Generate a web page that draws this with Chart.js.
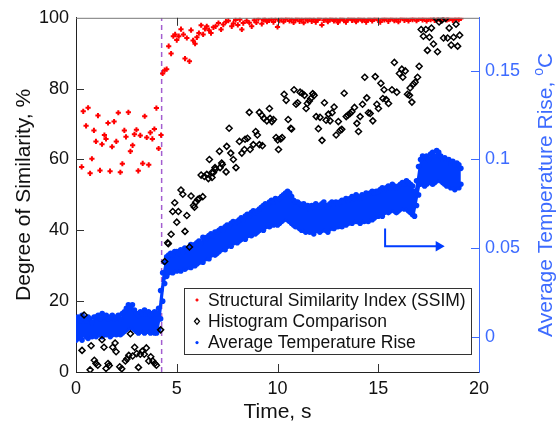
<!DOCTYPE html>
<html>
<head>
<meta charset="utf-8">
<script src="https://cdn.jsdelivr.net/npm/chart.js@4.4.1/dist/chart.umd.min.js"></script>
<style>
  html, body { margin: 0; padding: 0; background: #fff; }
  #wrap { width: 557px; height: 425px; }
</style>
</head>
<body>
<div id="wrap"><canvas id="chart" width="557" height="425"></canvas></div>
<script>
// --- Axis ticks ---
const xTicks = [0, 5, 10, 15, 20];
const leftTicks = [0, 20, 40, 60, 80, 100];
const rightTicks = [0, 0.05, 0.1, 0.15];

// --- SSIM (%), [time s, value] ---
const ssimEarly = [
  [0.28,57.9],[0.36,73.6],[0.5,69.5],[0.6,74.6],[0.7,56.1],[0.79,60.2],[0.89,68.2],[0.99,65.1],
  [1.09,72.4],[1.19,56.9],[1.29,64.3],[1.41,66.9],[1.49,65.8],[1.59,70.3],[1.69,56.7],[1.79,63.6],
  [1.89,70.7],[2.0,65.1],[2.1,73.2],[2.2,56.4],[2.3,58.8],[2.4,68.2],[2.48,66.4],[2.6,73.3],
  [2.7,62.3],[2.81,64],[2.9,67.1],[3.0,68.4],[3.09,56.8],[3.19,66.8],[3.31,58.9],[3.41,72.2],
  [3.51,66.2],[3.61,58.5],[3.69,67.6],[3.79,65.8],[3.89,68.6],[3.99,74.5],[4.1,63.1],[4.22,66.9]
];
const ssimRise = [
  [4.3,84.3],[4.4,85.2],[4.5,85.5],[4.6,92],[4.72,89.9],[4.83,94.8],[4.92,95.3],[5.0,93.7],
  [5.1,94.8],[5.21,96.8],[5.33,95.3],[5.41,88.5],[5.5,94.3],[5.63,87.7],[5.71,96.5],[5.81,93.6],
  [5.91,92.7],[6.0,94.5],[6.1,95.7],[6.21,97.9],[6.31,95.3],[6.4,96.9],[6.49,97.6],[6.6,96.5],
  [6.7,95.7],[6.82,97.3],[6.93,97.6],[7.07,98.5],[7.2,96.7],[7.31,98.1],[7.44,98.9],[7.56,99.2],
  [7.73,97.6],[7.81,98.4],[7.92,99.4],[8.03,98],[8.13,99.5],[8.23,96.7],[8.3,98.5],[8.47,99.2],
  [8.6,98.6],[8.72,97.6],[8.85,99.3],[8.95,98.7],[9.05,99.7],[9.22,98.3],[9.3,99.4],[9.38,99.6],
  [9.48,98.9],[9.58,99.3]
];
// dense part, one sample every 0.1 s from 9.7 s
const ssimLateStart = 9.7;
const ssimLate = [
  99.5,98.8,99.6,97.4,99.2,99.8,98.9,99.5,100,99.1,
  99.6,98.7,99.4,99.9,99.0,99.5,98.6,99.7,99.2,99.8,
  99.0,99.6,98.8,99.4,99.9,98.0,99.3,99.7,98.9,99.5,
  99.8,99.1,99.6,98.7,99.4,99.9,99.2,98.8,99.6,99.9,
  99.3,99.7,98.9,99.5,99.9,99.2,99.6,98.8,99.4,99.8,
  99.1,99.6,99.9,99.3,98.8,99.7,99.4,99.9,99.0,99.6,
  99.8,99.2,99.5,98.9,99.7,99.9,99.3,99.6,99.1,99.8,
  99.5,99.9,99.2,99.6,99.8,99.4,99.9,99.1,99.7,99.5,
  99.9,99.3,99.6,99.8,99.2,99.7,99.9,99.4,99.6,99.8,
  99.3,99.7,99.9,99.5,99.8
];

// --- Histogram comparison (%), [time s, value] ---
const histPoints = [
  [0.3,6.1],[0.4,16.1],[0.7,0.6],[0.75,7.4],[0.91,3.3],[0.99,2.4],[1.08,1.9],[1.29,9.1],[1.39,7],
  [1.49,1],[1.59,2.4],[1.65,1.8],[1.82,7],[1.94,8.2],[1.99,5.7],[2.17,1.5],[2.27,0.9],[2.45,3.1],
  [2.53,3.7],[2.62,4.7],[2.7,10.8],[2.81,4.5],[2.91,7],[3.01,5.2],[3.1,1.3],[3.19,5],[3.29,5.9],
  [3.39,5],[3.49,6.8],[3.61,3.1],[3.71,4.3],[3.81,3.1],[3.91,2.4],[3.99,1.9],[4.2,11.9],
  [4.4,31.2],[4.55,36.5],[4.58,36.2],[4.72,38.9],[4.8,45.3],[4.9,47.8],[5.0,42.3],[5.08,45.3],
  [5.21,51.4],[5.3,50.2],[5.41,39.7],[5.5,44.2],[5.63,35.3],[5.71,49.7],[5.83,47],[5.88,46.5],
  [5.94,47.9],[6.04,48.7],[6.12,49],[6.21,55.6],[6.29,49.5],[6.37,55.2],[6.49,55.8],[6.57,54.6],
  [6.62,60],[6.74,56.3],[6.75,54.9],[6.82,56.3],[6.9,57.7],[6.92,57.2],[7.12,62.3],[7.15,57.7],
  [7.23,59],[7.26,58.6],[7.45,56.5],[7.48,63.7],[7.6,68.8],[7.68,61.8],[7.81,60],[7.94,57.7],
  [8.11,65.1],[8.23,61.8],[8.36,62.8],[8.39,65.7],[8.51,66],[8.6,73.3],[8.64,62.8],[8.8,64.2],
  [8.92,67.9],[9.0,66.9],[9.1,64.2],[9.1,73.3],[9.22,72.5],[9.25,63.9],[9.33,71.6],[9.47,70.9],
  [9.6,74.4],[9.63,71.6],[9.72,70.7],[9.8,71.3],[9.93,66.2],[10.01,65.5],[10.05,62.8],[10.16,65.8],
  [10.23,66.2],[10.33,78.4],[10.43,76.7],[10.53,71.3],[10.66,68.8],[10.7,68.6],[10.82,79.7],
  [10.92,75.6],[11.0,76],[11.12,79],[11.22,78.7],[11.34,78.1],[11.42,74.4],[11.48,75.8],[11.58,76.5],
  [11.65,77.2],[11.75,78.6],[11.82,78.1],[11.92,72.1],[12.03,68.7],[12.11,71.9],[12.21,65.4],
  [12.33,76],[12.41,71.1],[12.53,72.8],[12.61,70.9],[12.71,73.2],[12.81,74.8],[12.91,66.9],
  [13.02,70.7],[13.11,68.2],[13.19,68.5],[13.31,78.7],[13.41,72.1],[13.49,72.5],[13.6,73],
  [13.69,73.5],[13.82,74.7],[13.94,70.2],[14.02,67.9],[14.1,72.1],[14.22,75.6],[14.33,83.2],
  [14.43,77.4],[14.51,73.2],[14.6,73],[14.73,70.9],[14.85,83.4],[14.93,75.6],[15.01,74.4],
  [15.13,81.5],[15.23,77.2],[15.29,79.7],[15.39,76.9],[15.51,75.8],[15.68,79.7],[15.8,87.4],
  [15.92,79],[16.05,84.3],[16.17,85.5],[16.22,83.2],[16.34,85],[16.45,78.4],[16.55,78.1],
  [16.58,80.2],[16.67,76.2],[16.75,81.3],[16.83,81.8],[16.95,83.2],[17.03,86.3],[17.13,96.7],
  [17.24,94.8],[17.36,96.7],[17.44,90.8],[17.54,94.5],[17.64,97.1],[17.74,92.6],[17.87,99.9],
  [17.94,90.4],[18.02,98.8],[18.16,99.4],[18.24,94.3],[18.34,99.8],[18.44,94.3],[18.52,97.1],
  [18.62,92.3],[18.74,94.5],[18.86,98.2],[18.94,92],[19.04,95.1]
];

// --- Average temperature rise (°C): upper and lower edge of the dense band, every 0.1 s ---
const tempStart = 0;
const tempStep = 0.1;
const tempUpper = [
  0.010,0.011,0.009,0.012,0.010,0.009,0.011,0.010,0.008,0.011,
  0.011,0.012,0.010,0.013,0.011,0.012,0.010,0.011,0.012,0.010,
  0.011,0.012,0.010,0.013,0.014,0.016,0.018,0.017,0.018,0.015,
  0.013,0.012,0.014,0.013,0.015,0.013,0.014,0.012,0.013,0.014,
  0.013,0.016,0.026,0.036,0.042,0.045,0.046,0.047,0.046,0.048,
  0.048,0.047,0.049,0.048,0.050,0.049,0.050,0.052,0.051,0.052,
  0.053,0.054,0.053,0.056,0.055,0.056,0.057,0.058,0.057,0.059,
  0.059,0.060,0.061,0.060,0.062,0.063,0.062,0.064,0.065,0.064,
  0.065,0.066,0.067,0.066,0.068,0.069,0.068,0.070,0.071,0.070,
  0.071,0.072,0.073,0.074,0.075,0.074,0.076,0.077,0.076,0.078,
  0.077,0.078,0.079,0.080,0.081,0.082,0.081,0.079,0.077,0.076,
  0.076,0.075,0.074,0.075,0.073,0.074,0.072,0.074,0.073,0.075,
  0.074,0.073,0.075,0.076,0.074,0.073,0.075,0.076,0.075,0.076,
  0.075,0.076,0.077,0.076,0.078,0.077,0.078,0.079,0.078,0.080,
  0.079,0.078,0.080,0.079,0.081,0.080,0.081,0.082,0.081,0.082,
  0.082,0.083,0.084,0.083,0.084,0.085,0.084,0.086,0.085,0.084,
  0.085,0.086,0.087,0.086,0.088,0.087,0.086,0.085,0.082,0.088,
  0.096,0.100,0.102,0.101,0.102,0.100,0.103,0.104,0.102,0.105,
  0.104,0.102,0.100,0.101,0.099,0.100,0.098,0.099,0.097,0.098,
  0.097,0.095
];
const tempLower = [
  -0.002,-0.001,0.000,-0.002,0.001,0.000,-0.001,0.001,0.000,0.001,
  0.000,0.002,0.001,0.000,0.002,0.001,0.002,0.000,0.001,0.002,
  0.001,0.002,0.001,0.002,0.003,0.004,0.006,0.005,0.006,0.004,
  0.003,0.002,0.003,0.004,0.002,0.003,0.004,0.002,0.003,0.002,
  0.002,0.004,0.010,0.020,0.030,0.034,0.036,0.037,0.036,0.038,
  0.037,0.038,0.037,0.039,0.038,0.039,0.040,0.039,0.041,0.040,
  0.041,0.042,0.043,0.042,0.044,0.045,0.044,0.046,0.047,0.046,
  0.047,0.048,0.049,0.050,0.049,0.051,0.052,0.051,0.053,0.054,
  0.053,0.054,0.055,0.056,0.055,0.057,0.058,0.057,0.059,0.058,
  0.059,0.060,0.061,0.060,0.062,0.063,0.062,0.064,0.063,0.064,
  0.063,0.064,0.065,0.066,0.067,0.066,0.065,0.064,0.063,0.062,
  0.062,0.061,0.060,0.061,0.059,0.060,0.059,0.060,0.058,0.060,
  0.060,0.059,0.060,0.061,0.060,0.059,0.061,0.062,0.061,0.062,
  0.062,0.063,0.062,0.064,0.063,0.064,0.065,0.064,0.066,0.065,
  0.065,0.064,0.066,0.065,0.066,0.065,0.067,0.066,0.067,0.068,
  0.068,0.069,0.068,0.070,0.071,0.070,0.071,0.072,0.071,0.070,
  0.071,0.072,0.073,0.072,0.073,0.071,0.070,0.069,0.068,0.074,
  0.080,0.086,0.087,0.085,0.086,0.087,0.088,0.086,0.087,0.088,
  0.089,0.088,0.087,0.086,0.085,0.086,0.084,0.085,0.083,0.085,
  0.084,0.086
];

// --- Markers: dashed cut line (left axis) and arrow towards right axis ---
const cutTime = [4.25, 4.25];
const cutLevel = [0, 100];
const arrowTime = [15.34, 15.34, 18.0];
const arrowTemp = [0.061, 0.051, 0.051];

// --- Styles ---
const FONT = '"Liberation Sans", Arial, sans-serif';
const RED = '#ff0000';
const BLUE = '#003cff';
const AXIS_BLUE = '#3d6bff';

// --- Build datasets ---
const pairs = list => list.map(([x, y]) => ({x, y}));
const ssimData = pairs(ssimEarly).concat(pairs(ssimRise))
  .concat(ssimLate.map((y, i) => ({x: +(ssimLateStart + i * 0.1).toFixed(2), y})));
const upperData = tempUpper.map((y, i) => ({x: +(tempStart + i * tempStep).toFixed(2), y}));
const lowerData = tempLower.map((y, i) => ({x: +(tempStart + i * tempStep).toFixed(2), y}));
const cutData = cutTime.map((x, i) => ({x, y: cutLevel[i]}));
const arrowData = arrowTime.map((x, i) => ({x, y: arrowTemp[i]}));

// --- Frame: box, inward ticks, right title ---
const framePlugin = {
  id: 'frame',
  afterDraw(chart) {
    const {ctx, chartArea: a, scales} = chart;
    const seg = (x1, y1, x2, y2) => { ctx.beginPath(); ctx.moveTo(x1, y1); ctx.lineTo(x2, y2); ctx.stroke(); };
    ctx.save();
    ctx.lineWidth = 1;
    ctx.strokeStyle = '#777';
    seg(a.left, a.top + 0.5, a.right, a.top + 0.5);
    ctx.strokeStyle = '#333';
    xTicks.slice(1, -1).forEach(v => {
      const px = Math.round(scales.x.getPixelForValue(v)) + 0.5;
      seg(px, a.bottom, px, a.bottom - 8);
      seg(px, a.top, px, a.top + 8);
    });
    leftTicks.slice(1, -1).forEach(v => {
      const py = Math.round(scales.y.getPixelForValue(v)) + 0.5;
      seg(a.left, py, a.left + 8, py);
    });
    ctx.strokeStyle = AXIS_BLUE;
    rightTicks.forEach(v => {
      const py = Math.round(scales.y1.getPixelForValue(v)) + 0.5;
      seg(a.right, py, a.right - 8, py);
    });

    // right axis title, read bottom to top, with superscript o
    const main = 'Average Temperature Rise, ', sup = 'o', tail = 'C';
    ctx.translate(546, (a.top + a.bottom) / 2);
    ctx.rotate(-Math.PI / 2);
    ctx.fillStyle = AXIS_BLUE;
    ctx.textBaseline = 'middle';
    ctx.textAlign = 'left';
    ctx.font = '21px ' + FONT;
    const w1 = ctx.measureText(main).width, w3 = ctx.measureText(tail).width;
    ctx.font = '14px ' + FONT;
    const w2 = ctx.measureText(sup).width;
    let x0 = -(w1 + w2 + w3) / 2;
    ctx.font = '21px ' + FONT;
    ctx.fillText(main, x0, 0);
    ctx.font = '14px ' + FONT;
    ctx.fillText(sup, x0 + w1, -7);
    ctx.font = '21px ' + FONT;
    ctx.fillText(tail, x0 + w1 + w2, 0);
    ctx.restore();
  }
};

// --- Boxed legend inside the plot ---
const legendPlugin = {
  id: 'boxLegend',
  afterDraw(chart) {
    const ctx = chart.ctx;
    const items = [
      {text: chart.data.datasets[1].label, kind: 'cross'},
      {text: chart.data.datasets[0].label, kind: 'diamond'},
      {text: chart.data.datasets[3].label, kind: 'dot'}
    ];
    ctx.save();
    ctx.fillStyle = '#fff';
    ctx.fillRect(184.5, 288.5, 287, 66);
    ctx.strokeStyle = '#333';
    ctx.lineWidth = 1;
    ctx.strokeRect(184.5, 288.5, 287, 66);
    ctx.font = '17.5px ' + FONT;
    ctx.textBaseline = 'middle';
    items.forEach((it, i) => {
      const y = 300 + i * 21.3, mx = 197;
      if (it.kind === 'cross') {
        ctx.strokeStyle = RED; ctx.lineWidth = 1.5;
        ctx.beginPath(); ctx.moveTo(mx - 1.5, y); ctx.lineTo(mx + 1.5, y);
        ctx.moveTo(mx, y - 1.5); ctx.lineTo(mx, y + 1.5); ctx.stroke();
      } else if (it.kind === 'diamond') {
        ctx.strokeStyle = '#000'; ctx.lineWidth = 1.3;
        ctx.beginPath(); ctx.moveTo(mx, y - 3); ctx.lineTo(mx + 2.5, y);
        ctx.lineTo(mx, y + 3); ctx.lineTo(mx - 2.5, y); ctx.closePath(); ctx.stroke();
      } else {
        ctx.fillStyle = BLUE;
        ctx.beginPath(); ctx.arc(mx, y, 1.6, 0, Math.PI * 2); ctx.fill();
      }
      ctx.fillStyle = '#111';
      ctx.fillText(it.text, 208, y + 1);
    });
    ctx.restore();
  }
};

// --- Chart ---
const ctx = document.getElementById('chart').getContext('2d');
new Chart(ctx, {
  type: 'line',
  data: {
    datasets: [
      {
        label: 'Histogram Comparison', data: pairs(histPoints), yAxisID: 'y', showLine: false,
        pointStyle: 'rectRot', pointRadius: 3, pointBorderWidth: 1.5,
        pointBorderColor: '#000', pointBackgroundColor: 'rgba(0,0,0,0)',
        borderColor: '#000', backgroundColor: 'rgba(0,0,0,0)'
      },
      {
        label: 'Structural Similarity Index (SSIM)', data: ssimData, yAxisID: 'y', showLine: false,
        pointStyle: 'cross', pointRadius: 2.6, pointBorderWidth: 2,
        pointBorderColor: RED, borderColor: RED, backgroundColor: RED
      },
      {
        label: 'arrow', data: arrowData, yAxisID: 'y1', showLine: true,
        borderColor: BLUE, borderWidth: 2, backgroundColor: BLUE,
        pointRadius: [0, 0, 6], pointStyle: 'triangle', pointRotation: 90,
        pointBackgroundColor: BLUE, pointBorderWidth: 0
      },
      {
        label: 'Average Temperature Rise', data: upperData, yAxisID: 'y1', showLine: true,
        borderWidth: 0, borderColor: 'rgba(0,0,0,0)', backgroundColor: BLUE, fill: '+1',
        pointRadius: 2.8, pointBackgroundColor: BLUE, pointBorderWidth: 0
      },
      {
        label: 'tempLower', data: lowerData, yAxisID: 'y1', showLine: true,
        borderWidth: 0, borderColor: 'rgba(0,0,0,0)', backgroundColor: BLUE, fill: false,
        pointRadius: 2.8, pointBackgroundColor: BLUE, pointBorderWidth: 0
      },
      {
        label: 'cut', data: cutData, yAxisID: 'y', showLine: true,
        borderColor: '#a35ed0', borderWidth: 1.5, borderDash: [5, 4], pointRadius: 0
      }
    ]
  },
  options: {
    responsive: false,
    animation: false,
    events: [],
    layout: { padding: { top: 13, left: 0, right: 0, bottom: 0 } },
    plugins: { legend: { display: false }, tooltip: { enabled: false } },
    scales: {
      x: {
        type: 'linear', min: 0, max: 20,
        ticks: { stepSize: 5, padding: 6, color: '#111', font: { family: FONT, size: 18 }, maxRotation: 0 },
        grid: { display: false, drawTicks: false },
        border: { color: '#222', width: 1 },
        title: { display: true, text: 'Time, s', color: '#111', font: { family: FONT, size: 21 }, padding: 0 },
        afterFit: s => { s.height = 53; }
      },
      y: {
        position: 'left', min: 0, max: 100,
        ticks: { stepSize: 20, padding: 7, color: '#111', font: { family: FONT, size: 18 } },
        grid: { display: false, drawTicks: false },
        border: { color: '#222', width: 1 },
        title: { display: true, text: 'Degree of Similarity, %', color: '#111', font: { family: FONT, size: 21 }, padding: { top: 12, bottom: 0 } },
        afterFit: s => { s.width = 76; }
      },
      y1: {
        position: 'right', min: -0.02, max: 0.18,
        afterBuildTicks: s => { s.ticks = rightTicks.map(v => ({ value: v })); },
        ticks: { padding: 6, color: AXIS_BLUE, font: { family: FONT, size: 18 }, callback: v => String(+(+v).toFixed(2)) },
        grid: { display: false, drawTicks: false },
        border: { color: AXIS_BLUE, width: 1 },
        afterFit: s => { s.width = 78; }
      }
    }
  },
  plugins: [framePlugin, legendPlugin]
});
</script>
</body>
</html>
